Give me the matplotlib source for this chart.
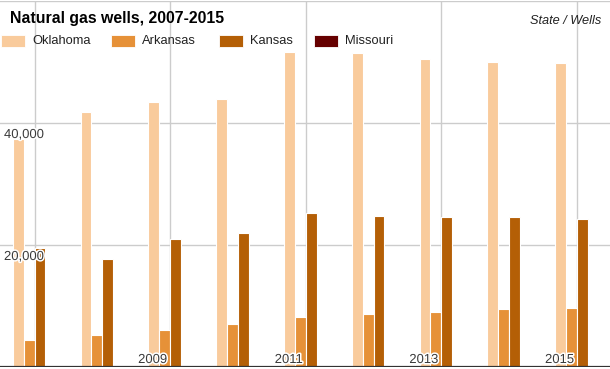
import matplotlib
matplotlib.use("Agg")
import matplotlib.pyplot as plt
import matplotlib.patheffects as pe
from matplotlib.patches import Rectangle
import numpy as np

plt.rcParams['font.family'] = ['Liberation Sans', 'DejaVu Sans']

years = [2007, 2008, 2009, 2010, 2011, 2012, 2013, 2014, 2015]
series_names = ["Oklahoma", "Arkansas", "Kansas", "Missouri"]
oklahoma = [37400, 41850, 43500, 43980, 51650, 51450, 50500, 50000, 49850]
arkansas = [4430, 5250, 6070, 7050, 8200, 8690, 9020, 9510, 9670]
kansas = [19500, 17700, 21000, 21970, 25250, 24750, 24600, 24600, 24250]
missouri = [0, 0, 0, 0, 0, 0, 0, 0, 0]
colors = ["#f9cb9c", "#e69138", "#b45f06", "#660000"]
year_labels = ["2009", "2011", "2013", "2015"]
y_ticks = [20000, 40000]
y_tick_labels = ["20,000", "40,000"]
title = "Natural gas wells, 2007-2015"
axis_note = "State / Wells"

W, H = 610, 369
fig = plt.figure(figsize=(W / 100, H / 100), dpi=100)
ax = fig.add_axes([0, 2 / H, 1, 1 - 3 / H])

x = np.arange(len(years))
bw = 0.16
data = [oklahoma, arkansas, kansas, missouri]
for i, (vals, c) in enumerate(zip(data, colors)):
    ax.bar(x + (i - 1.5) * bw, vals, width=bw, color=c, edgecolor="white",
           linewidth=0.8, zorder=3)

ax.set_xlim(-0.509, 8.488)
ax.set_ylim(0, 60000)

# gridlines
for yv in [20000, 40000, 60000]:
    ax.axhline(yv, color="#cccccc", lw=1, zorder=1)
for idx in range(0, len(years), 2):
    ax.axvline(x[idx], color="#cccccc", lw=1, zorder=1)
ax.axhline(0, color="#333333", lw=1.6, zorder=5)

for s in ax.spines.values():
    s.set_visible(False)
ax.set_xticks([])
ax.set_yticks([])

halo = [pe.withStroke(linewidth=2.2, foreground="white")]
tick_color = "#3a3a3a"
for yv, lab in zip(y_ticks, y_tick_labels):
    ax.annotate(lab, xy=(0, yv), xycoords=("axes fraction", "data"),
                xytext=(4, -6), textcoords="offset pixels", ha="left", va="top",
                fontsize=9.4, color=tick_color, path_effects=halo, zorder=6)

for lab in year_labels:
    idx = years.index(int(lab))
    ax.annotate(lab, xy=(x[idx], 0), xycoords="data",
                xytext=(-3, 4), textcoords="offset pixels", ha="right", va="baseline",
                fontsize=9.4, color=tick_color, path_effects=halo, zorder=6)

# title and note
fig.text(10 / W, 1 - 19 / H, title, ha="left", va="center", fontsize=11.4,
         fontweight="bold", color="#000000")
fig.text(601 / W, 1 - 21 / H, axis_note, ha="right", va="center", fontsize=9.2,
         style="italic", color="#222222")

# legend
leg_x = [1, 111, 219, 314]
for lx, name, c in zip(leg_x, series_names, colors):
    fig.patches.append(Rectangle((lx / W, 1 - 47 / H), 24 / W, 12 / H,
                                 transform=fig.transFigure, facecolor=c,
                                 edgecolor="white", lw=0.6))
    fig.text((lx + 31) / W, 1 - 41 / H, name, ha="left", va="center",
             fontsize=9.3, color="#222222")

fig.savefig("out.png", dpi=100)
